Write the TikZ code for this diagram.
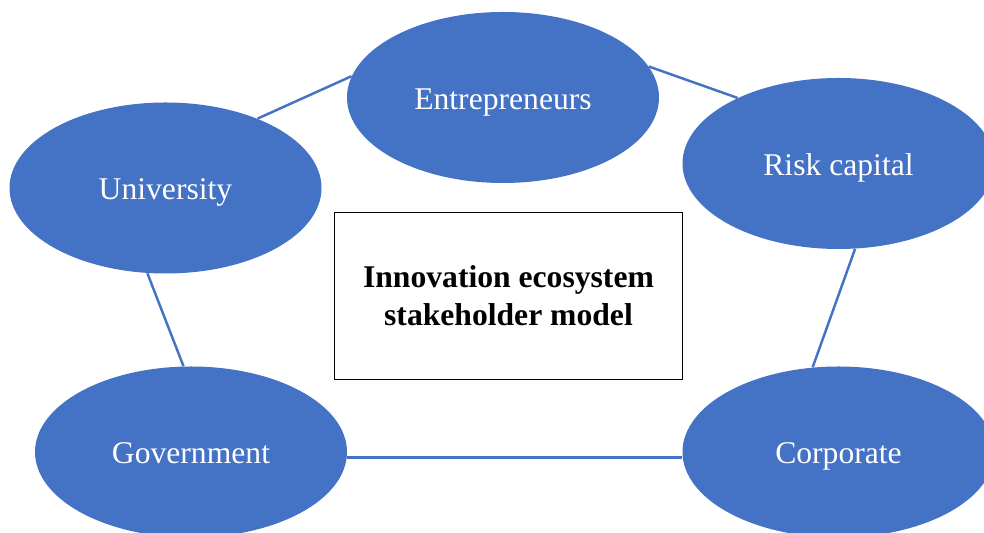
\documentclass[tikz,border=0pt]{standalone}
\usepackage{fontspec}
\setmainfont{Liberation Serif}
\usepackage{tikz}
\usetikzlibrary{shapes.geometric}

\definecolor{stakeblue}{HTML}{4472C4}

\begin{document}
\begin{tikzpicture}[
	stake/.style={shape=ellipse,fill=stakeblue,draw=none,inner sep=0pt,
		minimum width=6.24cm,minimum height=3.42cm,text=white,
		text height=13.6pt,text depth=0pt,
		font=\fontsize{18}{21}\selectfont},
	link/.style={draw=stakeblue,line width=1.4pt}]
	\clip (0,0) rectangle (19.68,10.66);
	\useasboundingbox (0,0) rectangle (19.68,10.66);

	\node[stake] (ent) at (10.06, 8.71)   {Entrepreneurs};
	\node[stake] (uni) at (3.31, 6.90)    {University};
	\node[stake] (risk) at (16.77, 7.39)  {Risk capital};
	\node[stake] (gov) at (3.82, 1.62)    {Government};
	\node[stake] (corp) at (16.77, 1.62)  {Corporate};

	\node[shape=rectangle,draw=black,line width=0.8pt,
		minimum width=6.96cm,minimum height=3.33cm,align=center,
		font=\fontsize{18}{21.5}\selectfont\bfseries] (model) at (10.17, 4.74)
		{Innovation ecosystem\\stakeholder model};

	\path[link] (uni.37) -- (ent.172);
	\path[link] (ent.12.6) -- (risk.147.4);
	\path[link] (risk.-79) -- (corp.107);
	\path[link] (uni.258.4) -- (gov.95.4);
	\path[link] (gov.-2) -- (corp.182);
\end{tikzpicture}
\end{document}
